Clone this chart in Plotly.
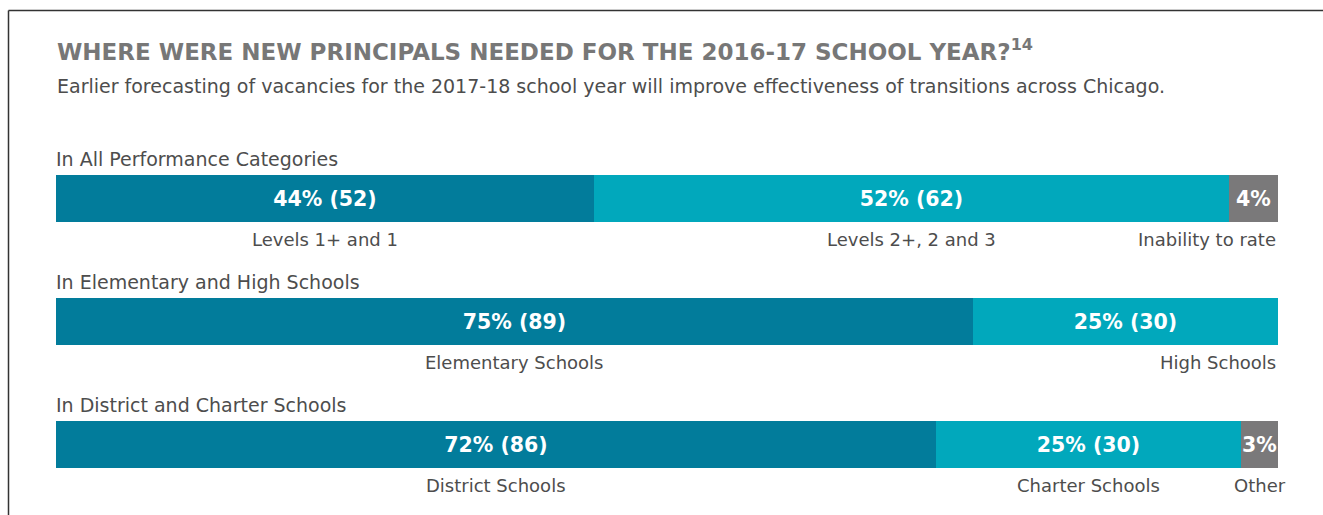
import plotly.graph_objects as go

# ---- data ----
rows = ["In All Performance Categories", "In Elementary and High Schools", "In District and Charter Schools"]
seg_names = [
    ["Levels 1+ and 1", "Levels 2+, 2 and 3", "Inability to rate"],
    ["Elementary Schools", "High Schools"],
    ["District Schools", "Charter Schools", "Other"],
]
seg_pcts = [[44, 52, 4], [75, 25], [72, 25, 3]]
seg_counts = [[52, 62, None], [89, 30], [86, 30, None]]
colors = ["#027C9B", "#01A8BC", "#7A797A"]

title = "WHERE WERE NEW PRINCIPALS NEEDED FOR THE 2016-17 SCHOOL YEAR?<sup>14</sup>"
subtitle = "Earlier forecasting of vacancies for the 2017-18 school year will improve effectiveness of transitions across Chicago."

W_PX, H_PX = 1323, 515
L, R, T, B = 56, 45, 125, 9
PW, PH = W_PX - L - R, H_PX - T - B
def px(x): return (x - L) / PW
def py(y): return 1 - (y - T) / PH

FONT = "DejaVu Sans"
TXT = "#4d4d4d"

fig = go.Figure()
for k in range(3):
    ys, xs, txt = [], [], []
    for i in range(len(rows)):
        if k < len(seg_pcts[i]):
            ys.append(i)
            xs.append(seg_pcts[i][k])
            c = seg_counts[i][k]
            txt.append(f"<b>{seg_pcts[i][k]}%" + (f" ({c})" if c is not None else "") + "</b>")
    fig.add_trace(go.Bar(
        x=xs, y=ys, orientation="h", width=0.39,
        marker=dict(color=colors[k], line=dict(width=0)),
        text=txt, textposition="inside", insidetextanchor="middle",
        textangle=0, constraintext="none",
        textfont=dict(family=FONT, size=20.5, color="white"),
        hoverinfo="skip", showlegend=False,
    ))

annotations = []
for i, row in enumerate(rows):
    annotations.append(dict(x=0, y=i, xref="x", yref="y", yshift=40, text=row,
                            showarrow=False, xanchor="left", yanchor="middle", xshift=-2,
                            font=dict(family=FONT, size=19, color=TXT)))
    cum = 0
    n = len(seg_pcts[i])
    for k, (name, p) in enumerate(zip(seg_names[i], seg_pcts[i])):
        center = cum + p / 2
        cum += p
        if k == n - 1 and len(name) > 8:
            ax, anch = 100, "right"
        else:
            ax, anch = center, "center"
        annotations.append(dict(x=ax, y=i, xref="x", yref="y", yshift=-41, text=name,
                                showarrow=False, xanchor=anch, yanchor="middle",
                                font=dict(family=FONT, size=18, color=TXT)))

annotations.append(dict(x=px(55), y=py(50), xref="paper", yref="paper", text=f"<b>{title}</b>",
                        showarrow=False, xanchor="left", yanchor="middle",
                        font=dict(family=FONT, size=23, color="#777777")))
annotations.append(dict(x=px(55), y=py(86), xref="paper", yref="paper", text=subtitle,
                        showarrow=False, xanchor="left", yanchor="middle",
                        font=dict(family=FONT, size=19, color=TXT)))

shapes = [
    dict(type="line", xref="paper", yref="paper", x0=px(8.5), x1=px(8.5), y0=py(10.5), y1=py(515),
         line=dict(color="#333333", width=1.5)),
    dict(type="line", xref="paper", yref="paper", x0=px(8.5), x1=px(1323), y0=py(10.5), y1=py(10.5),
         line=dict(color="#333333", width=1.5)),
]

top_val = -(198.5 - T) / 123
fig.update_layout(
    width=W_PX, height=H_PX, barmode="stack",
    margin=dict(l=L, r=R, t=T, b=B, pad=0),
    paper_bgcolor="white", plot_bgcolor="white",
    xaxis=dict(range=[0, 100], visible=False, fixedrange=True),
    yaxis=dict(range=[top_val + PH / 123, top_val], visible=False, fixedrange=True),
    annotations=annotations, shapes=shapes, bargap=0,
)
fig.write_html("out.html")
